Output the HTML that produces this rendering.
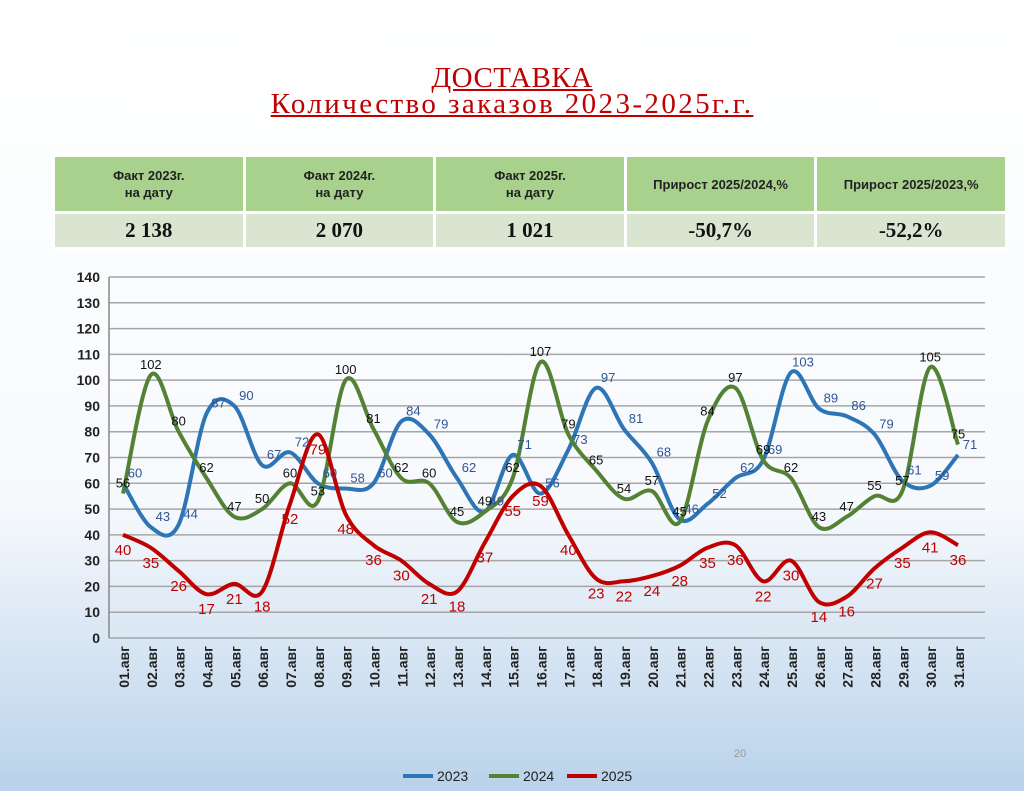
<!DOCTYPE html>
<html><head><meta charset="utf-8">
<style>
body{margin:0;width:1024px;height:791px;overflow:hidden;font-family:"Liberation Sans",sans-serif;
background:linear-gradient(#ffffff 0px,#f7fafd 500px,#dde9f5 620px,#b9d2ea 791px);position:relative}
.title{position:absolute;left:0;width:1024px;text-align:center;font-family:"Liberation Serif",serif;color:#c00000;text-decoration:underline;font-size:29px;line-height:29px}
table{position:absolute;left:52px;top:154px;width:956px;border-collapse:collapse;table-layout:fixed}
td{border:3px solid #fff;text-align:center;padding:0}
.h td{background:#a9d18e;height:54px;font-weight:bold;font-size:13px;color:#222;line-height:17px}
.d td{background:#d9e5d0;height:33px;font-family:"Liberation Serif",serif;font-weight:bold;font-size:21px;color:#111}
</style></head><body>
<div class="title" style="top:64px;letter-spacing:0.5px">ДОСТАВКА </div>
<div class="title" style="top:90px;letter-spacing:2.4px">Количество заказов 2023-2025г.г.</div>
<table>
<tr class="h"><td>Факт 2023г.<br>на дату</td><td>Факт 2024г.<br>на дату</td><td>Факт 2025г.<br>на дату</td><td>Прирост 2025/2024,%</td><td>Прирост 2025/2023,%</td></tr>
<tr class="d"><td>2 138</td><td>2 070</td><td>1 021</td><td>-50,7%</td><td>-52,2%</td></tr>
</table>
<svg id="chart" width="1024" height="791" style="position:absolute;left:0;top:0" font-family="Liberation Sans, sans-serif"></svg>
<script>
const categories=["01.авг","02.авг","03.авг","04.авг","05.авг","06.авг","07.авг","08.авг","09.авг","10.авг","11.авг","12.авг","13.авг","14.авг","15.авг","16.авг","17.авг","18.авг","19.авг","20.авг","21.авг","22.авг","23.авг","24.авг","25.авг","26.авг","27.авг","28.авг","29.авг","30.авг","31.авг"];
const s2023=[60,43,44,87,90,67,72,60,58,60,84,79,62,49,71,56,73,97,81,68,46,52,62,69,103,89,86,79,61,59,71];
const s2024=[56,102,80,62,47,50,60,53,100,81,62,60,45,49,62,107,79,65,54,57,45,84,97,69,62,43,47,55,57,105,75];
const s2025=[40,35,26,17,21,18,52,79,48,36,30,21,18,37,55,59,40,23,22,24,28,35,36,22,30,14,16,27,35,41,36];
const yTicks=[0,10,20,30,40,50,60,70,80,90,100,110,120,130,140];
const NS="http://www.w3.org/2000/svg";
const svg=document.getElementById('chart');
const x=i=>123+i*(958-123)/30;
const y=v=>638-v*(638-277)/140;
function mk(t,a,p){const e=document.createElementNS(NS,t);for(const k in a)e.setAttribute(k,a[k]);(p||svg).appendChild(e);return e;}
yTicks.forEach(t=>{
 const g=mk('line',{x1:109,x2:985,y1:y(t),y2:y(t),stroke:'#a6a6a6','stroke-width':1.5});
 
 
 const l=mk('text',{x:100,y:y(t)+5,'text-anchor':'end','font-size':14,'font-weight':'bold',fill:'#222'});
 l.textContent=t;
 
 
});
const ax=mk('line',{x1:109,x2:109,y1:277,y2:638,stroke:'#888','stroke-width':1.5});


categories.forEach((c,i)=>{
 const t=mk('text',{transform:`translate(${x(i)+6},646) rotate(-90)`,'text-anchor':'end','font-size':14,'font-weight':'bold',fill:'#222'});
 t.textContent=c;
 
 
});
function smooth(vals){
 const p=vals.map((v,i)=>[x(i),y(v)]);
 let d=`M${p[0][0]},${p[0][1]}`;
 for(let i=0;i<p.length-1;i++){
  const p0=p[i-1]||p[i],p1=p[i],p2=p[i+1],p3=p[i+2]||p2;
  const c1=[p1[0]+(p2[0]-p0[0])/6,p1[1]+(p2[1]-p0[1])/6];
  const c2=[p2[0]-(p3[0]-p1[0])/6,p2[1]-(p3[1]-p1[1])/6];
  d+=` C${c1[0]},${c1[1]} ${c2[0]},${c2[1]} ${p2[0]},${p2[1]}`;
 }
 return d;
}
const series=[[s2023,'#2e75b6','#2f5597','2023'],[s2024,'#548235','#111','2024'],[s2025,'#c00000','#c00000','2025']];
series.forEach(([vals,col,lc,name])=>{
 const p=mk('path',{d:smooth(vals),fill:'none',stroke:col,'stroke-width':4});
 
 
});
series.forEach(([vals,col,lc,name])=>{
 vals.forEach((v,i)=>{
  const t=mk('text',{x:x(i)+(name==='2023'?12:0),y:y(v)+(name==='2025'?20:-6),'text-anchor':'middle','font-size':name==='2025'?15:13,fill:lc});
  t.textContent=v;
  
  
 });
});
const pg=mk('text',{x:740,y:757,'text-anchor':'middle','font-size':11,fill:'#999'});
pg.textContent='20';


[[403,'#2e75b6','2023'],[489,'#548235','2024'],[567,'#c00000','2025']].forEach(([lx,c,n])=>{
 const l=mk('line',{x1:lx,x2:lx+30,y1:776,y2:776,stroke:c,'stroke-width':4});
 
 
 const t=mk('text',{x:lx+34,y:781,'font-size':14,fill:'#222'});
 t.textContent=n;
 
 
});
</script>
</body></html>
